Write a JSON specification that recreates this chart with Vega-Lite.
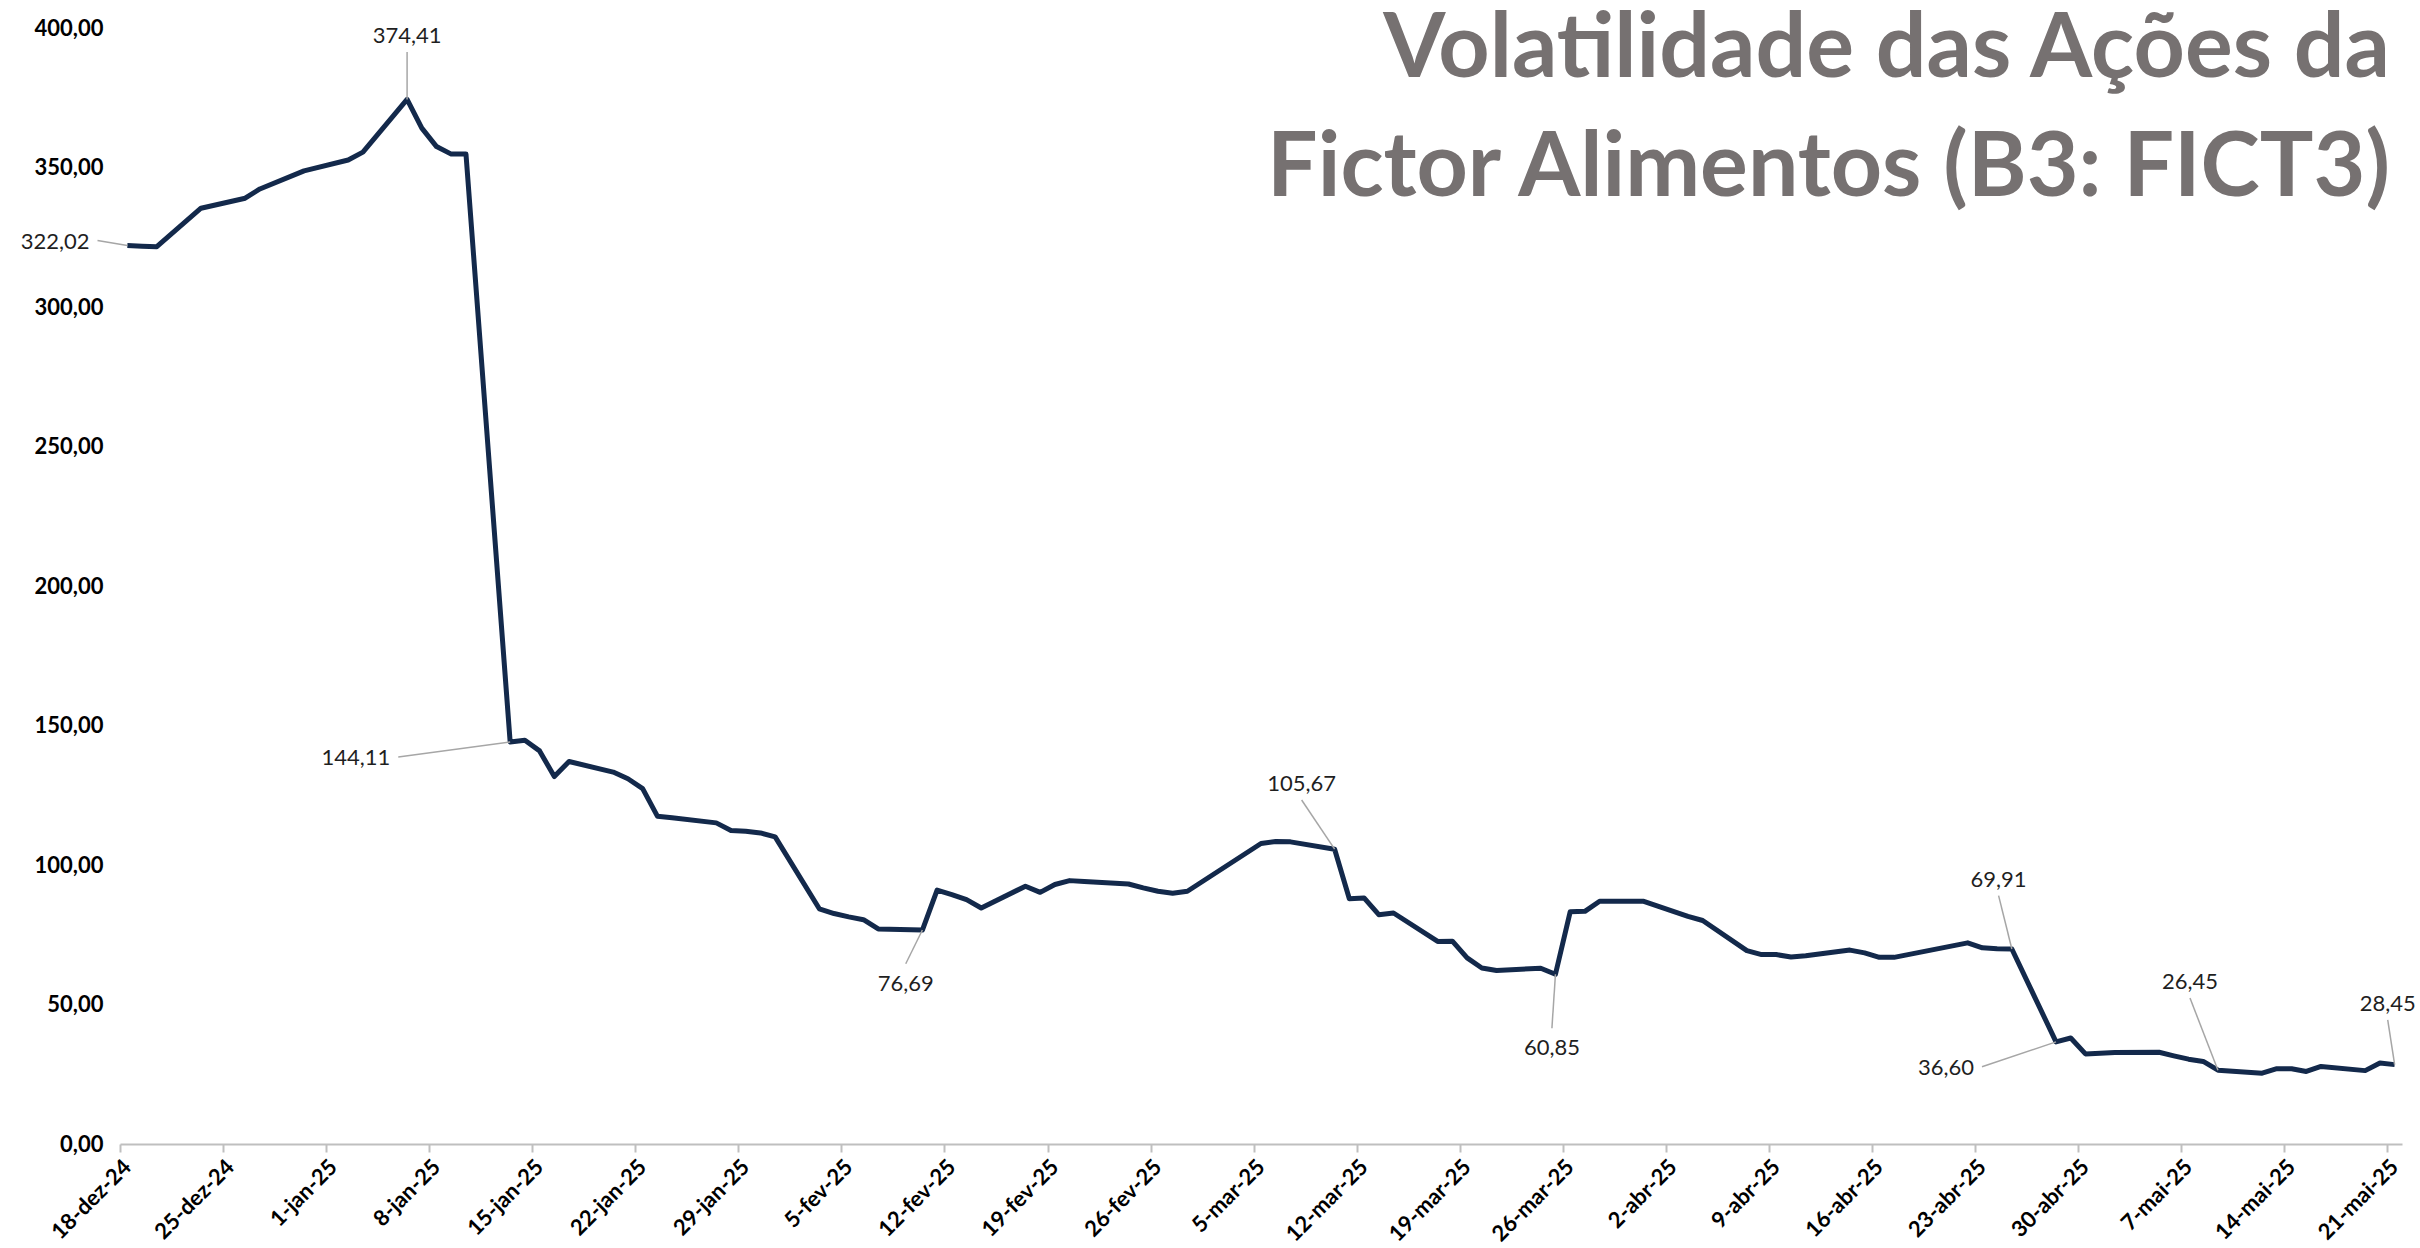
{
  "$schema": "https://vega.github.io/schema/vega-lite/v6.json",
  "autosize": {"type": "none"},
  "padding": {"left": 120, "top": 28, "right": 18, "bottom": 104},
  "width": 2282,
  "height": 1116,
  "background": "white",
  "config": {
    "view": {"stroke": null},
    "font": "Lato"
  },
  "title": {
    "text": ["Volatilidade das Ações da", "Fictor Alimentos (B3: FICT3)"],
    "anchor": "end",
    "frame": "group",
    "orient": "top",
    "font": "Lato",
    "fontSize": 89.5,
    "fontWeight": "bold",
    "color": "#767171",
    "lineHeight": 119,
    "baseline": "top",
    "dx": -12,
    "offset": -197
  },
  "datasets": {
    "prices": [
      {"date": "2024-12-18", "value": 322.02},
      {"date": "2024-12-19", "value": 321.8},
      {"date": "2024-12-20", "value": 321.6},
      {"date": "2024-12-23", "value": 335.4},
      {"date": "2024-12-26", "value": 339.0},
      {"date": "2024-12-27", "value": 342.3},
      {"date": "2024-12-30", "value": 348.8},
      {"date": "2025-01-02", "value": 352.7},
      {"date": "2025-01-03", "value": 355.5},
      {"date": "2025-01-06", "value": 374.41},
      {"date": "2025-01-07", "value": 364.1},
      {"date": "2025-01-08", "value": 357.5},
      {"date": "2025-01-09", "value": 354.8},
      {"date": "2025-01-10", "value": 354.8},
      {"date": "2025-01-13", "value": 144.11},
      {"date": "2025-01-14", "value": 144.7},
      {"date": "2025-01-15", "value": 140.9},
      {"date": "2025-01-16", "value": 131.7},
      {"date": "2025-01-17", "value": 137.1},
      {"date": "2025-01-20", "value": 133.3},
      {"date": "2025-01-21", "value": 130.9},
      {"date": "2025-01-22", "value": 127.4},
      {"date": "2025-01-23", "value": 117.5},
      {"date": "2025-01-24", "value": 116.9},
      {"date": "2025-01-27", "value": 115.1},
      {"date": "2025-01-28", "value": 112.4},
      {"date": "2025-01-29", "value": 112.1},
      {"date": "2025-01-30", "value": 111.5},
      {"date": "2025-01-31", "value": 110.1},
      {"date": "2025-02-03", "value": 84.3},
      {"date": "2025-02-04", "value": 82.6},
      {"date": "2025-02-05", "value": 81.4},
      {"date": "2025-02-06", "value": 80.4},
      {"date": "2025-02-07", "value": 77.1},
      {"date": "2025-02-10", "value": 76.69},
      {"date": "2025-02-11", "value": 91.0},
      {"date": "2025-02-12", "value": 89.4},
      {"date": "2025-02-13", "value": 87.6},
      {"date": "2025-02-14", "value": 84.6},
      {"date": "2025-02-17", "value": 92.4},
      {"date": "2025-02-18", "value": 90.2},
      {"date": "2025-02-19", "value": 93.0},
      {"date": "2025-02-20", "value": 94.4},
      {"date": "2025-02-21", "value": 94.1},
      {"date": "2025-02-24", "value": 93.2},
      {"date": "2025-02-25", "value": 91.8},
      {"date": "2025-02-26", "value": 90.6},
      {"date": "2025-02-27", "value": 89.9},
      {"date": "2025-02-28", "value": 90.6},
      {"date": "2025-03-05", "value": 107.7},
      {"date": "2025-03-06", "value": 108.4},
      {"date": "2025-03-07", "value": 108.3},
      {"date": "2025-03-10", "value": 105.67},
      {"date": "2025-03-11", "value": 87.9},
      {"date": "2025-03-12", "value": 88.2},
      {"date": "2025-03-13", "value": 82.2},
      {"date": "2025-03-14", "value": 82.8},
      {"date": "2025-03-17", "value": 72.6},
      {"date": "2025-03-18", "value": 72.7},
      {"date": "2025-03-19", "value": 66.7},
      {"date": "2025-03-20", "value": 63.1},
      {"date": "2025-03-21", "value": 62.2},
      {"date": "2025-03-24", "value": 63.0},
      {"date": "2025-03-25", "value": 60.85},
      {"date": "2025-03-26", "value": 83.2},
      {"date": "2025-03-27", "value": 83.4},
      {"date": "2025-03-28", "value": 87.0},
      {"date": "2025-03-31", "value": 87.0},
      {"date": "2025-04-01", "value": 85.2},
      {"date": "2025-04-02", "value": 83.4},
      {"date": "2025-04-03", "value": 81.6},
      {"date": "2025-04-04", "value": 80.1},
      {"date": "2025-04-07", "value": 69.3},
      {"date": "2025-04-08", "value": 67.9},
      {"date": "2025-04-09", "value": 67.9},
      {"date": "2025-04-10", "value": 67.0},
      {"date": "2025-04-11", "value": 67.5},
      {"date": "2025-04-14", "value": 69.5},
      {"date": "2025-04-15", "value": 68.5},
      {"date": "2025-04-16", "value": 66.9},
      {"date": "2025-04-17", "value": 66.9},
      {"date": "2025-04-22", "value": 72.1},
      {"date": "2025-04-23", "value": 70.3},
      {"date": "2025-04-24", "value": 70.0},
      {"date": "2025-04-25", "value": 69.91},
      {"date": "2025-04-28", "value": 36.6},
      {"date": "2025-04-29", "value": 38.0},
      {"date": "2025-04-30", "value": 32.3},
      {"date": "2025-05-02", "value": 32.8},
      {"date": "2025-05-05", "value": 32.9},
      {"date": "2025-05-06", "value": 31.6},
      {"date": "2025-05-07", "value": 30.4},
      {"date": "2025-05-08", "value": 29.6},
      {"date": "2025-05-09", "value": 26.45},
      {"date": "2025-05-12", "value": 25.4},
      {"date": "2025-05-13", "value": 27.0},
      {"date": "2025-05-14", "value": 27.0},
      {"date": "2025-05-15", "value": 26.0},
      {"date": "2025-05-16", "value": 27.8},
      {"date": "2025-05-19", "value": 26.3},
      {"date": "2025-05-20", "value": 29.0},
      {"date": "2025-05-21", "value": 28.45}
    ],
    "notes": [
      {"date": "2024-12-18T12:00", "value": 322.02, "ldate": "2024-12-16T11:20", "lvalue": 323.8},
      {"date": "2025-01-06T12:00", "value": 374.41, "ldate": "2025-01-06T12:00", "lvalue": 391.4},
      {"date": "2025-01-13T12:00", "value": 144.11, "ldate": "2025-01-05T21:36", "lvalue": 138.7},
      {"date": "2025-02-10T12:00", "value": 76.69, "ldate": "2025-02-09T08:53", "lvalue": 64.6},
      {"date": "2025-03-10T12:00", "value": 105.67, "ldate": "2025-03-08T06:15", "lvalue": 123.3},
      {"date": "2025-03-25T12:00", "value": 60.85, "ldate": "2025-03-25T06:14", "lvalue": 41.5},
      {"date": "2025-04-25T12:00", "value": 69.91, "ldate": "2025-04-24T14:24", "lvalue": 89.0},
      {"date": "2025-04-28T12:00", "value": 36.6, "ldate": "2025-04-23T11:20", "lvalue": 27.7},
      {"date": "2025-05-09T12:00", "value": 26.45, "ldate": "2025-05-07T14:24", "lvalue": 52.3},
      {"date": "2025-05-21T12:00", "value": 28.45, "ldate": "2025-05-21T00:43", "lvalue": 44.5}
    ]
  },
  "layer": [
    {
      "data": {"name": "prices", "format": {"parse": {"date": "date:'%Y-%m-%d'"}}},
      "mark": {"type": "line", "color": "#13294b", "strokeWidth": 5, "strokeJoin": "round"},
      "encoding": {
        "x": {
          "field": "date", "type": "temporal", "timeUnit": "yearmonthdate", "bandPosition": 0.5,
          "scale": {"domain": [{"year": 2024, "month": 12, "date": 18}, {"year": 2025, "month": 5, "date": 22}]},
          "axis": {
            "title": null,
            "grid": false,
            "values": [
              {"year": 2024, "month": 12, "date": 18}, {"year": 2024, "month": 12, "date": 25},
              {"year": 2025, "month": 1, "date": 1}, {"year": 2025, "month": 1, "date": 8},
              {"year": 2025, "month": 1, "date": 15}, {"year": 2025, "month": 1, "date": 22},
              {"year": 2025, "month": 1, "date": 29}, {"year": 2025, "month": 2, "date": 5},
              {"year": 2025, "month": 2, "date": 12}, {"year": 2025, "month": 2, "date": 19},
              {"year": 2025, "month": 2, "date": 26}, {"year": 2025, "month": 3, "date": 5},
              {"year": 2025, "month": 3, "date": 12}, {"year": 2025, "month": 3, "date": 19},
              {"year": 2025, "month": 3, "date": 26}, {"year": 2025, "month": 4, "date": 2},
              {"year": 2025, "month": 4, "date": 9}, {"year": 2025, "month": 4, "date": 16},
              {"year": 2025, "month": 4, "date": 23}, {"year": 2025, "month": 4, "date": 30},
              {"year": 2025, "month": 5, "date": 7}, {"year": 2025, "month": 5, "date": 14},
              {"year": 2025, "month": 5, "date": 21}
            ],
            "labelExpr": "date(datum.value) + '-' + ['jan','fev','mar','abr','mai','jun','jul','ago','set','out','nov','dez'][month(datum.value)] + '-' + timeFormat(datum.value, '%y')",
            "labelAngle": -45,
            "labelFont": "Lato",
            "labelFontWeight": "bold",
            "labelFontSize": 22,
            "labelColor": "#000000",
            "labelPadding": 4,
            "labelOverlap": false,
            "labelFlush": false,
            "domainColor": "#bfbfbf",
            "domainWidth": 2,
            "tickColor": "#bfbfbf",
            "tickWidth": 2,
            "tickSize": 8
          }
        },
        "y": {
          "field": "value", "type": "quantitative",
          "scale": {"domain": [0, 400], "nice": false},
          "axis": {
            "title": null,
            "grid": false,
            "domain": false,
            "ticks": false,
            "values": [0, 50, 100, 150, 200, 250, 300, 350, 400],
            "format": ".2f",
            "labelExpr": "replace(datum.label, '.', ',')",
            "labelFont": "Lato",
            "labelFontWeight": "bold",
            "labelFontSize": 22,
            "labelColor": "#000000",
            "labelPadding": 17
          }
        }
      }
    },
    {
      "data": {"name": "notes"},
      "mark": {"type": "rule", "color": "#a6a6a6", "strokeWidth": 1.5},
      "encoding": {
        "x": {"field": "date", "type": "temporal"},
        "y": {"field": "value", "type": "quantitative"},
        "x2": {"field": "ldate"},
        "y2": {"field": "lvalue"}
      }
    },
    {
      "data": {"name": "notes"},
      "transform": [
        {"filter": {"field": "value", "oneOf": [322.02, 144.11, 36.6]}},
        {"calculate": "replace(format(datum.value, '.2f'), '.', ',')", "as": "txt"}
      ],
      "mark": {"type": "text", "align": "right", "baseline": "middle", "dx": -8, "dy": 1, "font": "Lato", "fontSize": 22, "color": "#1f1f1f"},
      "encoding": {
        "x": {"field": "ldate", "type": "temporal"},
        "y": {"field": "lvalue", "type": "quantitative"},
        "text": {"field": "txt"}
      }
    },
    {
      "data": {"name": "notes"},
      "transform": [
        {"filter": {"field": "value", "oneOf": [374.41, 105.67, 69.91, 26.45, 28.45]}},
        {"calculate": "replace(format(datum.value, '.2f'), '.', ',')", "as": "txt"}
      ],
      "mark": {"type": "text", "align": "center", "baseline": "alphabetic", "dy": -9, "font": "Lato", "fontSize": 22, "color": "#1f1f1f"},
      "encoding": {
        "x": {"field": "ldate", "type": "temporal"},
        "y": {"field": "lvalue", "type": "quantitative"},
        "text": {"field": "txt"}
      }
    },
    {
      "data": {"name": "notes"},
      "transform": [
        {"filter": {"field": "value", "oneOf": [76.69, 60.85]}},
        {"calculate": "replace(format(datum.value, '.2f'), '.', ',')", "as": "txt"}
      ],
      "mark": {"type": "text", "align": "center", "baseline": "alphabetic", "dy": 27, "font": "Lato", "fontSize": 22, "color": "#1f1f1f"},
      "encoding": {
        "x": {"field": "ldate", "type": "temporal"},
        "y": {"field": "lvalue", "type": "quantitative"},
        "text": {"field": "txt"}
      }
    }
  ]
}
